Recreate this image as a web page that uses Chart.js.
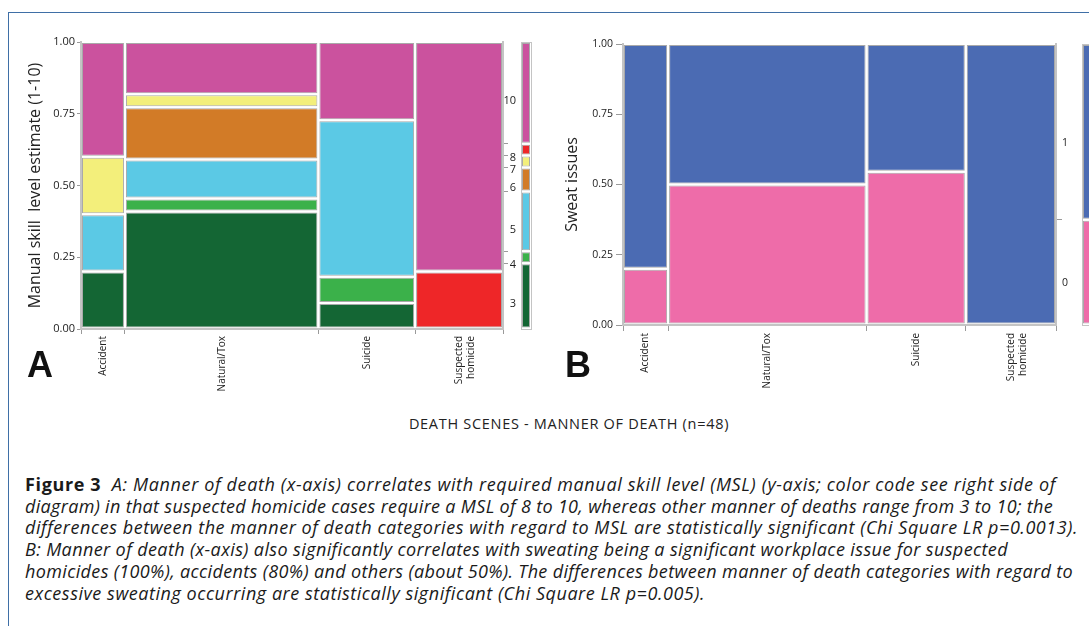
<!DOCTYPE html>
<html>
<head>
<meta charset="utf-8">
<script src="https://cdn.jsdelivr.net/npm/chart.js@4.4.1/dist/chart.umd.min.js"></script>
<style>
  body { margin: 0; width: 1089px; height: 626px; overflow: hidden; position: relative; background: #fff; font-family: 'Open Sans', sans-serif; }
  .frame { position: absolute; left: 8px; top: 12px; width: 1200px; height: 700px; border: 1px solid #3f6fa6; }
  canvas { position: absolute; }
  .panel-letter { position: absolute; font-family: 'Liberation Sans', Arial, sans-serif; font-weight: bold; font-size: 36px; line-height: 36px; color: #111; }
  .x-title { position: absolute; left: 0; width: 1138px; top: 414px; text-align: center; font-size: 14.5px; letter-spacing: 0.7px; color: #222; }
  .caption { position: absolute; left: 25px; top: 474px; width: 1070px; font-family: 'Open Sans', sans-serif; font-size: 18px; line-height: 21.7px; color: #1a1a1a; white-space: nowrap; }
  .caption .ln { display: inline-block; font-style: italic; }
  .caption b { font-style: normal; }
</style>
</head>
<body>
<div class="frame"></div>
<canvas id="chartA" width="497" height="380" style="left:20px;top:30px"></canvas>
<canvas id="legendA" width="14" height="380" style="left:519px;top:30px"></canvas>
<canvas id="chartB" width="515" height="380" style="left:555px;top:30px"></canvas>
<canvas id="legendB" width="14" height="380" style="left:1080px;top:30px"></canvas>
<div class="panel-letter" style="left:27px;top:347px">A</div>
<div class="panel-letter" style="left:565px;top:347px">B</div>
<div class="x-title">DEATH SCENES - MANNER OF DEATH (n=48)</div>
<div class="caption">
  <span class="ln" data-w="1031"><b>Figure 3</b>&nbsp; A: Manner of death (x-axis) correlates with required manual skill level (MSL) (y-axis; color code see right side of</span><br>
  <span class="ln" data-w="1028">diagram) in that suspected homicide cases require a MSL of 8 to 10, whereas other manner of deaths range from 3 to 10; the</span><br>
  <span class="ln" data-w="1053">differences between the manner of death categories with regard to MSL are statistically significant (Chi Square LR p=0.0013).</span><br>
  <span class="ln" data-w="983">B: Manner of death (x-axis) also significantly correlates with sweating being a significant workplace issue for suspected</span><br>
  <span class="ln" data-w="1048">homicides (100%), accidents (80%) and others (about 50%). The differences between manner of death categories with regard to</span><br>
  <span class="ln" data-w="680">excessive sweating occurring are statistically significant (Chi Square LR p=0.005).</span>
</div>

<script>
// --- DATA (case counts per manner of death) ---
const categories = ['Accident', 'Natural/Tox', 'Suicide', 'Suspected homicide'];
const yTicks = [0, 0.25, 0.5, 0.75, 1];

// A: manual skill level, one array per level
const mslLevels = ['3', '4', '5', '6', '7', '8', '10'];
const msl3 = [1, 9, 1, 0];
const msl4 = [0, 1, 1, 0];
const msl5 = [1, 3, 6, 0];
const msl6 = [0, 4, 0, 0];
const msl7 = [1, 1, 0, 0];
const msl8 = [0, 0, 0, 2];
const msl10 = [2, 4, 3, 8];

// B: sweat issues
const sweatLevels = ['0', '1'];
const sweat0 = [1, 11, 6, 0];
const sweat1 = [4, 11, 5, 10];

// --- STYLE ---
const mslColors = ['#146634', '#3bb14a', '#5bc9e5', '#d27b27', '#f3ef7b', '#ee2628', '#cb529e'];
const sweatColors = ['#ee6ca9', '#4b6bb3'];
const CELL_BORDER = '#a9a9a9';
const AXIS_COLOR = '#c4c4c4';
const TICK_COLOR = '#9a9a9a';
const GAP = 1;

// caption: stretch each line to the width it has in the printed figure
document.querySelectorAll('.caption .ln').forEach(line => {
  const w = line.getBoundingClientRect().width;
  const chars = line.textContent.length;
  line.style.letterSpacing = ((+line.dataset.w - w) / chars) + 'px';
});

Chart.defaults.font.family = "'Open Sans', sans-serif";
Chart.defaults.color = '#222';

// Bar controller whose bars span [x0, x1] on the linear x scale (variable widths)
class MosaicController extends Chart.BarController {
  _calculateBarIndexPixels(index) {
    const d = this.getDataset().data[index];
    const s = this._cachedMeta.iScale;
    const l = s.getPixelForValue(d.x0) + GAP;
    const r = s.getPixelForValue(d.x1) - GAP;
    return { base: l, head: r, center: (l + r) / 2, size: r - l };
  }
  _calculateBarValuePixels(index) {
    const v = super._calculateBarValuePixels(index);
    const lo = Math.max(v.base, v.head) - GAP;
    const hi = Math.min(v.base, v.head) + GAP;
    return { base: lo, head: hi, size: hi - lo, center: (lo + hi) / 2 };
  }
}
MosaicController.id = 'mosaic';
MosaicController.defaults = Chart.BarController.defaults;
Chart.register(MosaicController);

function mosaic(levelCounts, levels, colors) {
  const colTotals = categories.map((_, i) => levelCounts.reduce((s, c) => s + c[i], 0));
  const n = colTotals.reduce((a, b) => a + b, 0);
  const starts = [];
  let acc = 0;
  colTotals.forEach(t => { starts.push(acc); acc += t; });
  const below = categories.map(() => 0);

  const datasets = levelCounts.map((counts, k) => {
    const data = [];
    counts.forEach((c, i) => {
      if (c > 0) {
        data.push({
          x: starts[i] + colTotals[i] / 2, x0: starts[i], x1: starts[i] + colTotals[i],
          y: [below[i] / colTotals[i], (below[i] + c) / colTotals[i]]
        });
      }
      below[i] += c;
    });
    return { data, backgroundColor: colors[k] };
  });

  // marginal distribution (right hand bar)
  const levelTotals = levelCounts.map(c => c.reduce((a, b) => a + b, 0));
  const legendSets = [];
  const rightInfo = [];
  let cum = 0;
  levelTotals.forEach((t, k) => {
    if (!t) return;
    legendSets.push({ data: [{ x: 0.5, x0: 0, x1: 1, y: [cum / n, (cum + t) / n] }], backgroundColor: colors[k] });
    rightInfo.push({ value: (cum + t / 2) / n, label: levels[k], tick: false });
    cum += t;
    if (cum < n) rightInfo.push({ value: cum / n, label: '', tick: true });
  });

  const xInfo = [];
  starts.forEach((s, i) => {
    xInfo.push({ value: s, label: '', tick: true });
    xInfo.push({ value: s + colTotals[i] / 2, label: categories[i].split(' '), tick: false });
  });
  xInfo.push({ value: n, label: '', tick: true });

  return { datasets, legendSets, rightInfo, xInfo, n };
}

const cellStyle = { borderColor: CELL_BORDER, borderWidth: 1, borderSkipped: false, inflateAmount: 0 };

function drawPanel(cfg, m) {
  const infoTicks = info => scale => { scale.ticks = info.map(t => ({ value: t.value })); };
  const infoColor = info => ctx => (info[ctx.index] && info[ctx.index].tick) ? TICK_COLOR : 'rgba(0,0,0,0)';
  const font = { size: cfg.fontSize };

  new Chart(document.getElementById(cfg.canvas), {
    type: 'mosaic',
    data: { datasets: m.datasets.map(d => Object.assign({}, d, cellStyle)) },
    options: {
      responsive: false,
      animation: false,
      layout: { padding: { left: cfg.padL, top: cfg.padT, right: 0, bottom: 0 } },
      plugins: { legend: { display: false }, tooltip: { enabled: false } },
      scales: {
        x: {
          type: 'linear', min: 0, max: m.n, offset: false,
          afterBuildTicks: infoTicks(m.xInfo),
          afterFit: s => { s.height = cfg.xHeight; },
          ticks: { autoSkip: false, minRotation: 90, maxRotation: 90, padding: 2, font: { size: cfg.xFontSize },
                   callback: (v, i) => m.xInfo[i].label },
          grid: { drawOnChartArea: false, offset: false, tickLength: cfg.xTick, tickColor: infoColor(m.xInfo) },
          border: { color: AXIS_COLOR, width: 2 }
        },
        y: {
          type: 'linear', min: 0, max: 1,
          afterBuildTicks: s => { s.ticks = yTicks.map(v => ({ value: v })); },
          afterFit: s => { s.width = cfg.yWidth; },
          ticks: { padding: cfg.yPad, font, callback: v => v.toFixed(2) },
          title: { display: true, text: cfg.title, font: { size: 16 }, padding: 0, color: '#222' },
          grid: { drawOnChartArea: false, tickLength: cfg.yTick, tickColor: TICK_COLOR },
          border: { color: AXIS_COLOR, width: 2 }
        },
        yR: {
          type: 'linear', position: 'right', min: 0, max: 1,
          afterBuildTicks: infoTicks(m.rightInfo),
          afterFit: s => { s.width = cfg.rightWidth; },
          ticks: { autoSkip: false, crossAlign: 'far', padding: cfg.rightPad, labelOffset: cfg.labelOffset, font,
                   callback: (v, i) => m.rightInfo[i].label },
          grid: { drawOnChartArea: false, tickLength: cfg.rightTick, tickColor: infoColor(m.rightInfo) },
          border: { color: AXIS_COLOR, width: 2 }
        }
      }
    }
  });

  // marginal bar at the far right
  const frame = { display: true, ticks: { display: false }, grid: { drawOnChartArea: false, drawTicks: false }, border: { color: AXIS_COLOR, width: 1 } };
  new Chart(document.getElementById(cfg.legend), {
    type: 'mosaic',
    data: { datasets: m.legendSets.map(d => Object.assign({}, d, cellStyle)) },
    options: {
      responsive: false,
      animation: false,
      layout: { padding: { left: 2, right: 2, top: cfg.padT, bottom: cfg.xHeight } },
      plugins: { legend: { display: false }, tooltip: { enabled: false } },
      scales: {
        x: Object.assign({ type: 'linear', min: 0, max: 1, offset: false }, frame),
        xTop: Object.assign({ type: 'linear', position: 'top', min: 0, max: 1 }, frame),
        y: Object.assign({ type: 'linear', min: 0, max: 1 }, frame),
        yRight: Object.assign({ type: 'linear', position: 'right', min: 0, max: 1 }, frame)
      }
    }
  });
}

drawPanel({
  canvas: 'chartA', legend: 'legendA', title: 'Manual skill  level estimate (1-10)',
  padL: 6, padT: 12, yWidth: 55, xHeight: 81, rightWidth: 13,
  yTick: 4, yPad: 2, xTick: 5, rightTick: 5, rightPad: -4, labelOffset: 8, fontSize: 11, xFontSize: 10
}, mosaic([msl3, msl4, msl5, msl6, msl7, msl8, msl10], mslLevels, mslColors));

drawPanel({
  canvas: 'chartB', legend: 'legendB', title: 'Sweat issues',
  padL: 8, padT: 14, yWidth: 60, xHeight: 85, rightWidth: 12,
  yTick: 7, yPad: 3, xTick: 6, rightTick: 6, rightPad: 0, labelOffset: 11, fontSize: 10.5, xFontSize: 10
}, mosaic([sweat0, sweat1], sweatLevels, sweatColors));
</script>
</body>
</html>
